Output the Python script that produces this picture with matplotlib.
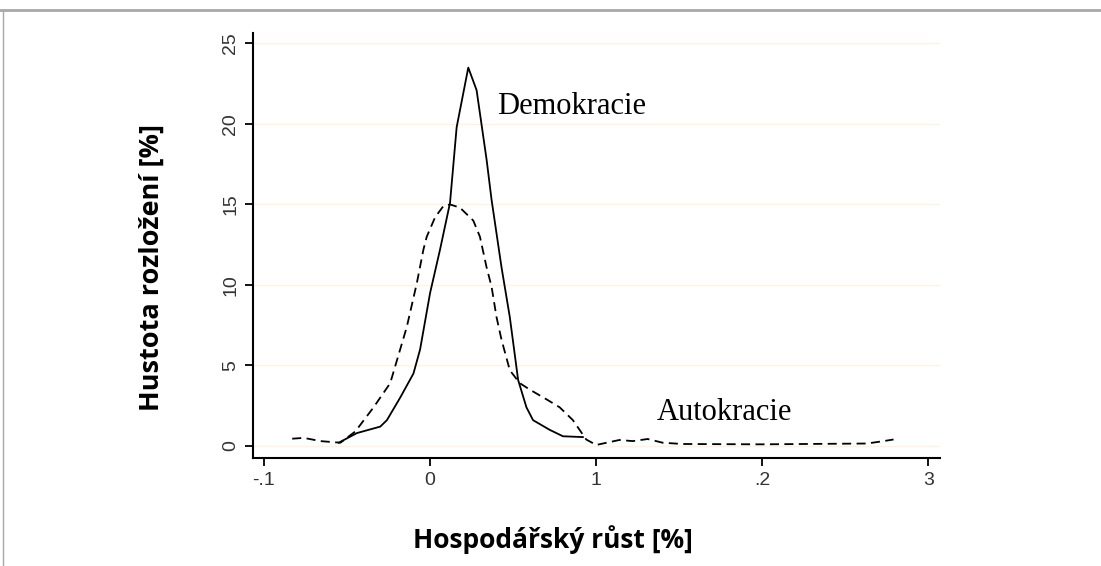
import matplotlib.pyplot as plt
from matplotlib.lines import Line2D

# Demokracie - plna cara
dem_x = [-0.055, -0.044, -0.030, -0.026, -0.018, -0.010, -0.006, 0.000, 0.006, 0.012,
         0.016, 0.023, 0.028, 0.034, 0.037, 0.043, 0.048, 0.053, 0.058, 0.062,
         0.072, 0.080, 0.092]
dem_y = [0.2, 0.8, 1.2, 1.6, 3.0, 4.5, 6.0, 9.5, 12.2, 15.1,
         19.8, 23.5, 22.1, 17.8, 15.3, 11.1, 8.0, 4.1, 2.4, 1.6,
         1.0, 0.6, 0.55]

# Autokracie - carkovana
aut_x = [-0.083, -0.076, -0.066, -0.054, -0.045, -0.034, -0.024, -0.014, -0.008, -0.004,
         -0.002, 0.003, 0.008, 0.012, 0.018, 0.026, 0.030, 0.034, 0.037, 0.040,
         0.043, 0.048, 0.054, 0.060, 0.070, 0.078, 0.086, 0.094, 0.100, 0.114,
         0.122, 0.131, 0.140, 0.152, 0.200, 0.263, 0.273, 0.279]
aut_y = [0.45, 0.5, 0.3, 0.2, 0.9, 2.4, 3.9, 7.4, 10.1, 12.2,
         13.0, 14.2, 14.9, 15.0, 14.8, 14.0, 13.0, 11.1, 9.9, 8.0,
         6.6, 4.7, 3.9, 3.5, 2.9, 2.4, 1.6, 0.4, 0.06, 0.37,
         0.3, 0.43, 0.2, 0.12, 0.1, 0.15, 0.3, 0.4]

xticks = [-0.1, 0.0, 0.1, 0.2, 0.3]
xtick_labels = ["-.1", "0", "1", ".2", "3"]
yticks = [0, 5, 10, 15, 20, 25]

fig = plt.figure(figsize=(11.01, 5.66), dpi=100)
ax = fig.add_axes([0.2298, 0.1908, 0.624, 0.7509])

for yt in yticks:
    ax.axhline(yt, color="#fdf3df", lw=1.0, zorder=0)

ax.plot(dem_x, dem_y, color="black", lw=1.3)
ax.plot(aut_x, aut_y, color="black", lw=1.3, dashes=(5, 3))

ax.set_xlim(-0.1066, 0.307)
ax.set_ylim(-0.75, 25.65)
ax.spines["top"].set_visible(False)
ax.spines["right"].set_visible(False)
ax.spines["left"].set_linewidth(1.5)
ax.spines["bottom"].set_linewidth(1.5)

tick_font = ["Liberation Sans Narrow", "Liberation Sans"]
ax.set_xticks(xticks)
ax.set_xticklabels(xtick_labels, family=tick_font, fontsize=14, color="#333333")
ax.set_yticks(yticks)
ax.set_yticklabels([str(v) for v in yticks], family=tick_font, fontsize=14,
                   color="#333333", rotation=90, va="center")
ax.tick_params(length=6, width=1.3, pad=4)

ax.set_xlabel("Hospodářský růst [%]", family="Open Sans", fontweight="bold",
              fontsize=19, va="center")
ax.xaxis.set_label_coords(0.437, -0.193)
ax.set_ylabel("Hustota rozložení [%]", family="Open Sans", fontweight="bold",
              fontsize=19.5, va="center")
ax.yaxis.set_label_coords(-0.147, 0.449)

ax.text(0.0404, 21.1, "Demokracie", family="Liberation Serif", fontsize=22, va="center")
ax.text(0.1367, 2.1, "Autokracie", family="Liberation Serif", fontsize=22, va="center")

# ramecek kolem obrazku
fig.add_artist(Line2D([0, 1], [0.983, 0.983], color="#a8a8a8", lw=2))
fig.add_artist(Line2D([0.003, 0.003], [0, 0.983], color="#a8a8a8", lw=1))

fig.savefig("out.png", dpi=100)
